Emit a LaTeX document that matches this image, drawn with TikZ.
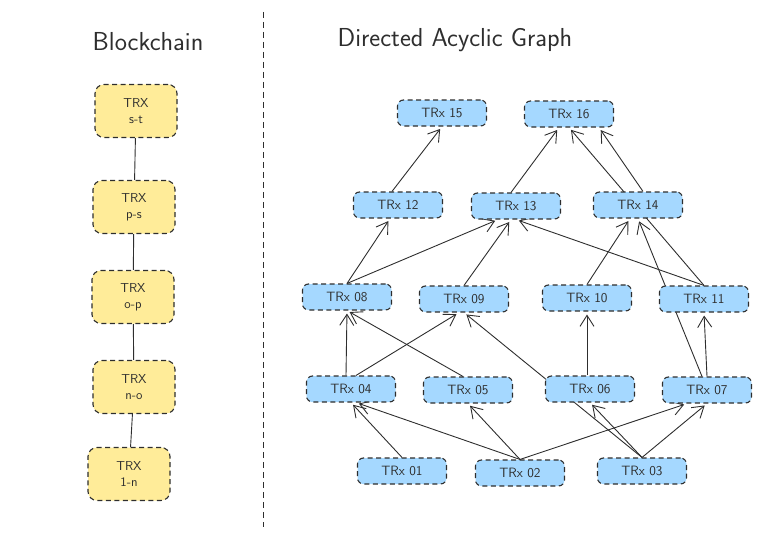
\documentclass[tikz,border=0pt]{standalone}
\usepackage{tikz}
\usetikzlibrary{arrows.meta,backgrounds}
\definecolor{dagblue}{HTML}{A5D8FF}
\definecolor{chainyellow}{HTML}{FFEC99}
\definecolor{inkgray}{HTML}{2E2E2E}
\tikzset{
	trx/.style={draw=inkgray, fill=dagblue, dash pattern=on 5pt off 3.5pt, line width=1.1pt, rounded corners=6pt, minimum width=89pt, minimum height=26pt, inner sep=0pt, text=inkgray, font=\sffamily\fontsize{13.5}{15}\selectfont},
	blk/.style={draw=inkgray, fill=chainyellow, dash pattern=on 5pt off 3.5pt, line width=1.1pt, rounded corners=9pt, minimum width=82pt, minimum height=53pt, inner sep=0pt, align=center, text=inkgray, font=\sffamily\fontsize{13}{16}\selectfont},
	link/.style={draw=inkgray, line width=0.9pt},
	arr/.style={link, -{Straight Barb[length=11pt,width=14pt]}, shorten >=3pt},
	heading/.style={text=inkgray, font=\sffamily\fontsize{26}{30}\selectfont}
}
\begin{document}
\begin{tikzpicture}[x=1pt,y=-1pt]

	\useasboundingbox (0,0) rectangle (782,551);

	\node[heading] (tchain) at (148,42) {Blockchain};
	\node[heading] (tdag) at (455,40) {Directed Acyclic Graph};
	\coordinate (sep top) at (263,12);
	\coordinate (sep bot) at (263,527);
	\draw[inkgray, line width=0.9pt, dash pattern=on 6pt off 4pt] (sep top) -- (sep bot);

	\node[blk] (bst) at (136,111) {TRX\\s-t};
	\node[blk] (bps) at (134,207) {TRX\\p-s};
	\node[blk] (bop) at (133,297) {TRX\\o-p};
	\node[blk] (bno) at (134,387) {TRX\\n-o};
	\node[blk] (b1n) at (129,474) {TRX\\1-n};

	\draw[link] (bst) -- (bps);
	\draw[link] (bps) -- (bop);
	\draw[link] (bop) -- (bno);
	\draw[link] (bno) -- (b1n);

	\node[trx] (n15) at (442,113) {TRx 15};
	\node[trx] (n16) at (569,114) {TRx 16};
	\node[trx] (n12) at (398,205) {TRx 12};
	\node[trx] (n13) at (516,206) {TRx 13};
	\node[trx] (n14) at (638,205) {TRx 14};
	\node[trx] (n08) at (347,297) {TRx 08};
	\node[trx] (n09) at (464,299) {TRx 09};
	\node[trx] (n10) at (587,298) {TRx 10};
	\node[trx] (n11) at (704,299) {TRx 11};
	\node[trx] (n04) at (351,389) {TRx 04};
	\node[trx] (n05) at (468,390) {TRx 05};
	\node[trx] (n06) at (590,389) {TRx 06};
	\node[trx] (n07) at (707,390) {TRx 07};
	\node[trx] (n01) at (402,471) {TRx 01};
	\node[trx] (n02) at (520,473) {TRx 02};
	\node[trx] (n03) at (642,471) {TRx 03};

	\begin{scope}[on background layer]
		\draw[arr] (n01.north) -- (n04.south);
		\draw[arr] (n02.north) -- ([xshift=5pt]n04.south);
		\draw[arr] (n02.north) -- (n05.south);
		\draw[arr] (n02.north) -- ([xshift=-20pt]n07.south);
		\draw[arr] (n03.north) -- (n06.south);
		\draw[arr] (n03.north) -- (n07.south);
		\draw[arr] (n03.north) -- (n09.south);
		\draw[arr] ([xshift=-5pt]n04.north) -- (n08.south);
		\draw[arr] ([xshift=5pt]n04.north) -- ([xshift=-5pt]n09.south);
		\draw[arr] ([xshift=-5pt]n05.north) -- (n08.south);
		\draw[arr] ([xshift=-3pt]n06.north) -- (n10.south);
		\draw[arr] (n07.north) -- (n11.south);
		\draw[arr] ([xshift=-5pt]n07.north) -- (n14.south);
		\draw[arr] (n08.north) -- ([xshift=-8pt]n12.south);
		\draw[arr] (n08.north) -- ([xshift=-18pt]n13.south);
		\draw[arr] (n09.north) -- ([xshift=-5pt]n13.south);
		\draw[arr] (n11.north) -- (n13.south);
		\draw[arr] (n10.north) -- ([xshift=-8pt]n14.south);
		\draw[arr] (n11.north) -- (n16.south);
		\draw[arr] ([xshift=-6pt]n12.north) -- (n15.south);
		\draw[arr] ([xshift=-5pt]n13.north) -- ([xshift=-10pt]n16.south);
		\draw[arr] ([xshift=5pt]n14.north) -- ([xshift=30pt]n16.south);
	\end{scope}

\end{tikzpicture}
\end{document}
